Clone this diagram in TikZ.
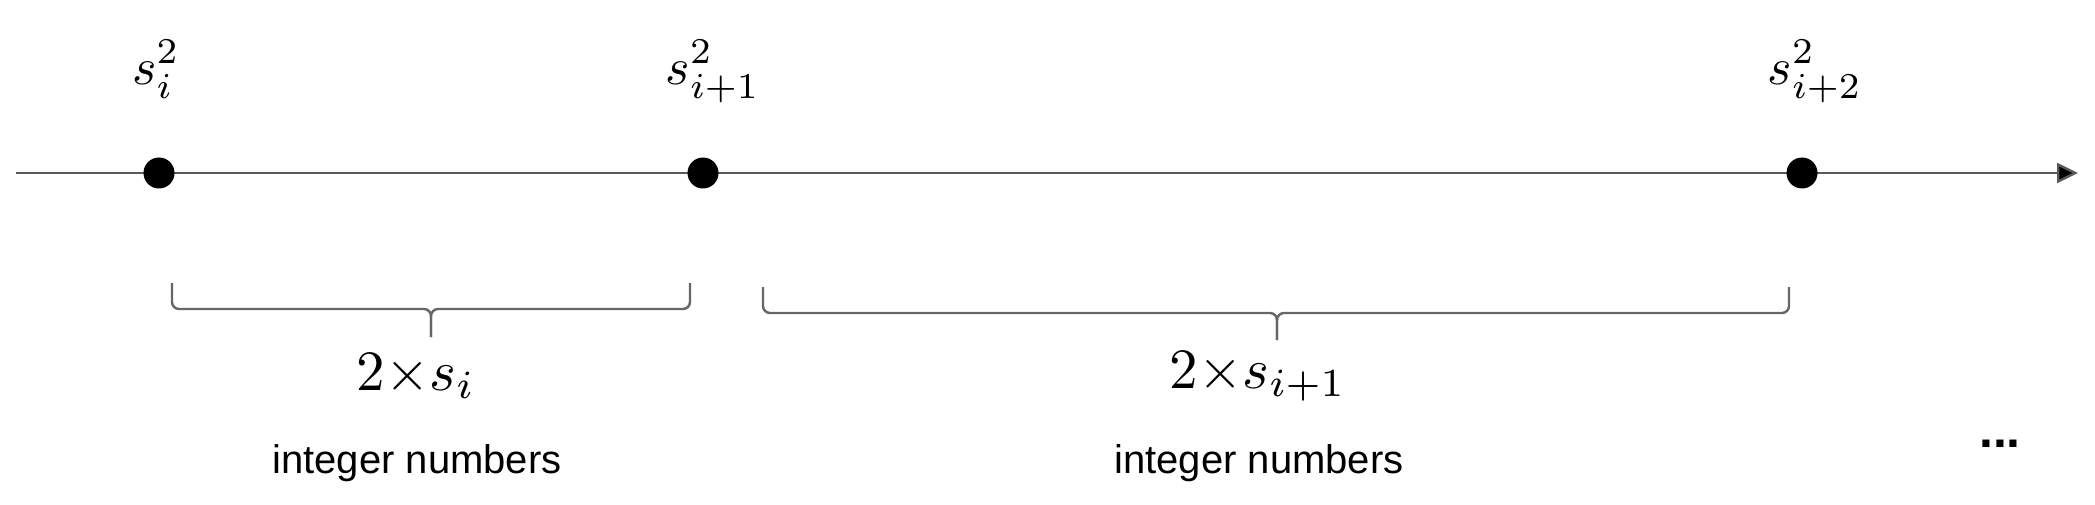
\documentclass[tikz,border=0pt]{standalone}
\usepackage{graphicx}
\usepackage{fontspec}
\newfontfamily\lsans{Liberation Sans}
\usetikzlibrary{arrows.meta}
\newcommand{\bigmath}[2]{\scalebox{#1}{\normalsize$#2$}}
\newcommand{\supr}[1]{\raisebox{0.6pt}{$\scriptstyle #1$}}
\tikzset{
  axisline/.style={line width=2.4pt, draw=black!65, -{Triangle[length=21pt,width=20pt,fill=black]}},
  dotmark/.style={circle, fill=black, minimum size=31pt, inner sep=0pt},
  mathlabel/.style={anchor=base, inner sep=0pt},
  wordlabel/.style={anchor=base, inner sep=0pt, font=\lsans\fontsize{40}{48}\selectfont},
  bracepath/.style={line width=2.4pt, draw=black!60, rounded corners=7pt},
}
\begin{document}
\begin{tikzpicture}[x=1pt,y=-1pt]
\useasboundingbox (0,0) rectangle (2095,505);
% axis
\coordinate (axstart) at (16,173);
\coordinate (axend) at (2078,173);
\draw[axisline] (axstart) -- (axend);
% dots
\node[dotmark] (d1) at (159,173) {};
\node[dotmark] (d2) at (703,173) {};
\node[dotmark] (d3) at (1802,173) {};
% top labels
\node[mathlabel] (l1) at (156,85) {\bigmath{5.2}{s_i^{\supr{2}}}};
\node[mathlabel] (l2) at (713,85) {\bigmath{5.2}{s_{i+1}^{\supr{2}}}};
\node[mathlabel] (l3) at (1815,85) {\bigmath{5.2}{s_{i+2}^{\supr{2}}}};
% brace 1
\coordinate (b1L) at (172,283);
\coordinate (b1R) at (690,283);
\coordinate (b1M) at (431,309);
\coordinate (b1T) at (431,337);
\draw[bracepath] (b1L) -- (b1L |- b1M) -- (b1M) -- (b1T);
\draw[bracepath] (b1R) -- (b1R |- b1M) -- (b1M) -- (b1T);
% brace 2
\coordinate (b2L) at (763,287);
\coordinate (b2R) at (1789,287);
\coordinate (b2M) at (1277,313);
\coordinate (b2T) at (1277,340);
\draw[bracepath] (b2L) -- (b2L |- b2M) -- (b2M) -- (b2T);
\draw[bracepath] (b2R) -- (b2R |- b2M) -- (b2M) -- (b2T);
% brace labels
\node[mathlabel] (g1) at (416,390) {\bigmath{5.7}{2{\times}s_i}};
\node[mathlabel] (g2) at (1258,388) {\bigmath{5.7}{2{\times}s_{i+1}}};
\node[wordlabel] (w1) at (417,473) {integer numbers};
\node[wordlabel] (w2) at (1259,473) {integer numbers};
\node[wordlabel, font=\lsans\bfseries\fontsize{50}{60}\selectfont] (dots) at (2000,447) {...};
\end{tikzpicture}
\end{document}
